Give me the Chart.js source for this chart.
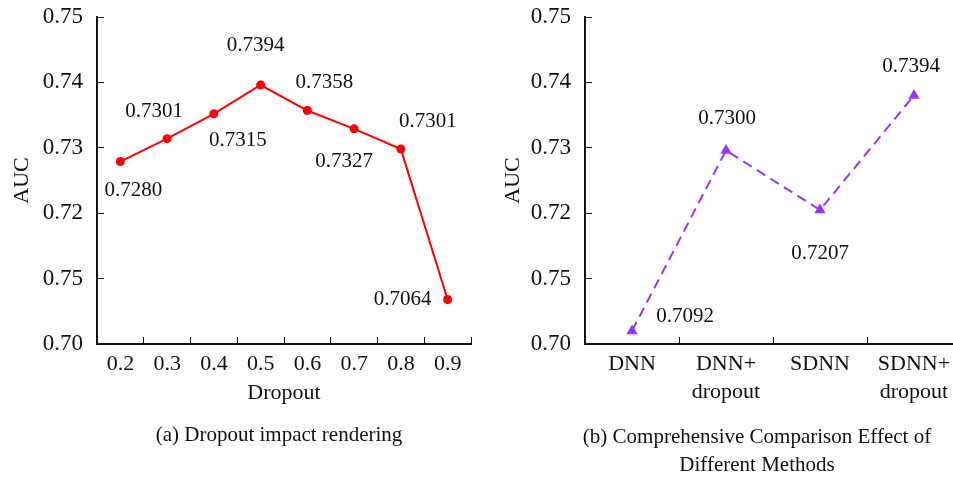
<!DOCTYPE html>
<html>
<head>
<meta charset="utf-8">
<script src="https://cdn.jsdelivr.net/npm/chart.js@4.4.1/dist/chart.umd.min.js"></script>
<style>
  html, body { margin: 0; padding: 0; background: #fff; overflow: hidden; width: 953px; height: 479px; }
  .box { position: absolute; top: 0; }
</style>
</head>
<body>
<div class="box" style="left:0;width:480px;height:479px"><canvas id="chartA"></canvas></div>
<div class="box" style="left:480px;width:500px;height:479px"><canvas id="chartB"></canvas></div>
<script>
// values
const dropoutRates = ["0.2", "0.3", "0.4", "0.5", "0.6", "0.7", "0.8", "0.9"];
const dropoutAuc = [0.7279, 0.7314, 0.7352, 0.7396, 0.7357, 0.7329, 0.7298, 0.7068];
const dropoutAucText = ["0.7280", "0.7301", "0.7315", "0.7394", "0.7358", "0.7327", "0.7301", "0.7064"];

const methods = ["DNN", ["DNN+", "dropout"], "SDNN", ["SDNN+", "dropout"]];
const methodAuc = [0.7020, 0.7296, 0.7205, 0.7380];
const methodAucText = ["0.7092", "0.7300", "0.7207", "0.7394"];

// the y tick labels as printed (sic)
const yTickLabels = ["0.70", "0.75", "0.72", "0.73", "0.74", "0.75"];

// label offsets from their point, in px
const offsA = [[13, 29], [-13, -27], [24, 27], [-5, -40], [17, -28], [-10, 33], [27, -28], [-45, 0]];
const offsB = [[53, -14], [1, -32], [0, 44], [-3, -29]];

const SERIF = "'Liberation Serif', 'DejaVu Serif', serif";

const pointLabels = {
  id: "pointLabels",
  afterDatasetsDraw(chart, args, opts) {
    const ctx = chart.ctx;
    const meta = chart.getDatasetMeta(0);
    ctx.save();
    ctx.font = "21px " + SERIF;
    ctx.fillStyle = "#111";
    ctx.textAlign = "center";
    ctx.textBaseline = "middle";
    meta.data.forEach((el, i) => {
      const o = opts.offsets[i];
      ctx.fillText(opts.texts[i], el.x + o[0], el.y + o[1]);
    });
    ctx.restore();
  }
};

const caption = {
  id: "caption",
  afterDraw(chart, args, opts) {
    const ctx = chart.ctx;
    ctx.save();
    ctx.font = "21px " + SERIF;
    ctx.fillStyle = "#111";
    ctx.textAlign = "center";
    ctx.textBaseline = "middle";
    opts.lines.forEach((t, i) => ctx.fillText(t, opts.x, opts.y + i * 28));
    ctx.restore();
  }
};

function makeChart(id, cfg) {
  return new Chart(document.getElementById(id), {
    type: "line",
    data: {
      labels: cfg.labels,
      datasets: [{
        data: cfg.values,
        borderColor: cfg.color,
        backgroundColor: cfg.color,
        borderWidth: 2,
        borderDash: cfg.dash || [],
        pointStyle: cfg.pointStyle,
        pointRadius: cfg.pointRadius,
        pointBorderWidth: 0,
        tension: 0,
      }],
    },
    options: {
      responsive: true,
      maintainAspectRatio: false,
      animation: false,
      layout: { padding: { top: 17, right: cfg.padRight, left: 0, bottom: 0 } },
      plugins: {
        legend: { display: false },
        tooltip: { enabled: false },
        pointLabels: { texts: cfg.texts, offsets: cfg.offsets },
        caption: cfg.caption,
      },
      scales: {
        x: {
          type: "category",
          offset: true,
          grid: { offset: true, drawOnChartArea: false, tickLength: -7, color: "#111", lineWidth: 1 },
          border: { display: true, color: "#111", width: 2 },
          ticks: {
            color: "#111", padding: 13, maxRotation: 0, autoSkip: false,
            font: { family: SERIF, size: 22, lineHeight: 1.27 },
          },
          title: {
            display: !!cfg.xTitle, text: cfg.xTitle || "", color: "#111",
            font: { family: SERIF, size: 22 }, padding: { top: 0, bottom: 73 },
          },
          afterFit: (s) => { s.height = 135; },
        },
        y: {
          min: 0.70, max: 0.75,
          grid: { drawOnChartArea: false, tickLength: -7, color: "#111", lineWidth: 1 },
          border: { display: true, color: "#111", width: 2 },
          ticks: {
            stepSize: 0.01, color: "#111", padding: 21,
            font: { family: SERIF, size: 23 },
            callback: (v, i) => yTickLabels[i],
          },
          title: {
            display: true, text: "AUC", color: "#111",
            font: { family: SERIF, size: 22 }, padding: { top: cfg.yTitlePad, bottom: 0 },
          },
          afterFit: (s) => { s.width = cfg.yWidth; s.paddingTop = 0; s.paddingBottom = 0; },
        },
      },
    },
    plugins: [pointLabels, caption],
  });
}

makeChart("chartA", {
  labels: dropoutRates,
  values: dropoutAuc,
  texts: dropoutAucText,
  offsets: offsA,
  color: "#ff0000",
  pointStyle: "circle",
  pointRadius: 4.5,
  padRight: 9,
  yWidth: 97,
  yTitlePad: 9,
  xTitle: "Dropout",
  caption: { lines: ["(a) Dropout impact rendering"], x: 279, y: 435 },
});

makeChart("chartB", {
  labels: methods,
  values: methodAuc,
  texts: methodAucText,
  offsets: offsB,
  color: "#9933ff",
  dash: [10, 6],
  pointStyle: "triangle",
  pointRadius: 6.5,
  padRight: 19,
  yWidth: 105,
  yTitlePad: 20,
  caption: { lines: ["(b) Comprehensive Comparison Effect of", "Different Methods"], x: 277, y: 437 },
});
</script>
</body>
</html>
